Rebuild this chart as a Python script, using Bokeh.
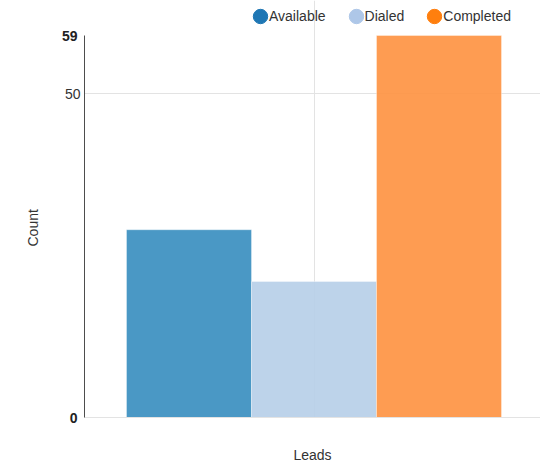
from bokeh.plotting import figure
from bokeh.models import (Range1d, FixedTicker, ColumnDataSource, Legend, LegendItem, LinearAxis, Title)
from bokeh.embed import file_html
from bokeh.resources import INLINE

category = "Leads"
y_title = "Count"
series = ["Available", "Dialed", "Completed"]
counts = [29, 21, 59]
series_colors = ["#1f77b4", "#aec7e8", "#ff7f0e"]
bar_colors = ["#368dbf", "#b6cee8", "#fe913f"]
y_ticks = [0, 50, 59]
bold_ticks = [0, 59]

n = len(series)
pos = [i - (n - 1) / 2 for i in range(n)]
src = ColumnDataSource(dict(series=series, count=counts, pos=pos,
                            color=series_colors, bar_color=bar_colors))

FONT = "Liberation Sans"
W, H = 540, 465
BORDER_BOTTOM = 48
TOP_GAP = 35  # headroom above the axis top for the legend
frame_h = H - BORDER_BOTTOM
y_max = max(y_ticks)
y_end = y_max * frame_h / (frame_h - TOP_GAP)

p = figure(width=W, height=H, output_backend="svg", toolbar_location=None,
           x_range=Range1d(-1.836, 1.812), y_range=Range1d(0, y_end),
           min_border_left=84, min_border_right=0, min_border_top=0,
           min_border_bottom=BORDER_BOTTOM)
p.outline_line_color = None
p.background_fill_color = "white"
p.border_fill_color = "white"

p.vbar(x="pos", top="count", bottom=0, width=1, source=src, fill_color="bar_color",
       fill_alpha=0.9, line_color="white", line_alpha=0.35, line_width=1)
# tiny markers used only to give the legend its round swatches
dots = p.ellipse(x="pos", y=0, width=0.01, height=0.01, width_units="screen",
                 height_units="screen", source=src, fill_color="color", line_color="color")

legend = Legend(items=[LegendItem(label=s, renderers=[dots], index=i) for i, s in enumerate(series)],
                orientation="horizontal", glyph_width=18, glyph_height=18, label_standoff=0,
                label_height=18, spacing=21, padding=0, margin=0, background_fill_alpha=0,
                border_line_color=None, label_text_font_size="14px", label_text_font=FONT,
                label_text_color="#333333", location=(167, 392))
p.add_layout(legend, "center")

normal_ticks = [t for t in y_ticks if t not in bold_ticks]

# inner y axis (normal labels)
p.yaxis.ticker = FixedTicker(ticks=normal_ticks)
p.yaxis.bounds = (0, y_max)
p.yaxis.major_tick_out = 0
p.yaxis.major_tick_in = 0
p.yaxis.minor_tick_out = 0
p.yaxis.minor_tick_in = 0
p.yaxis.axis_line_color = "#4d4d4d"
p.yaxis.major_label_text_font = FONT
p.yaxis.major_label_text_font_size = "14px"
p.yaxis.major_label_text_color = "#333333"
p.yaxis.major_label_standoff = 4
p.ygrid.ticker = FixedTicker(ticks=normal_ticks)
p.ygrid.grid_line_color = "#e3e3e3"

# outer y axis (bold labels), drawn back onto the inner label column
bold_axis = LinearAxis(ticker=FixedTicker(ticks=bold_ticks), bounds=(0, y_max))
bold_axis.axis_line_color = None
bold_axis.major_tick_out = 0
bold_axis.major_tick_in = 0
bold_axis.minor_tick_out = 0
bold_axis.minor_tick_in = 0
bold_axis.major_label_text_font = FONT
bold_axis.major_label_text_font_size = "14px"
bold_axis.major_label_text_font_style = "bold"
bold_axis.major_label_text_color = "#222222"
bold_axis.major_label_standoff = -16
p.add_layout(bold_axis, "left")

# y axis title, centred on the 0..max span rather than on the whole frame
p.add_layout(Title(text=y_title, align="left", offset=171, standoff=36,
                   text_font=FONT, text_font_size="14px", text_font_style="normal",
                   text_color="#333333"), "left")

# x axis
p.xaxis.ticker = FixedTicker(ticks=[])
p.xaxis.major_tick_out = 0
p.xaxis.major_tick_in = 0
p.xaxis.minor_tick_out = 0
p.xaxis.minor_tick_in = 0
p.xaxis.major_label_standoff = 0
p.xaxis.major_label_text_font_size = "0px"
p.xaxis.axis_line_color = "#e3e3e3"
p.xaxis.axis_label = category
p.xaxis.axis_label_text_font = FONT
p.xaxis.axis_label_text_font_size = "14px"
p.xaxis.axis_label_text_font_style = "normal"
p.xaxis.axis_label_text_color = "#333333"
p.xaxis.axis_label_standoff = 29
p.xgrid.ticker = FixedTicker(ticks=[sum(pos) / n])
p.xgrid.bounds = (0, y_max)
p.xgrid.grid_line_color = "#e3e3e3"

open("out.html", "w").write(file_html(p, INLINE))
